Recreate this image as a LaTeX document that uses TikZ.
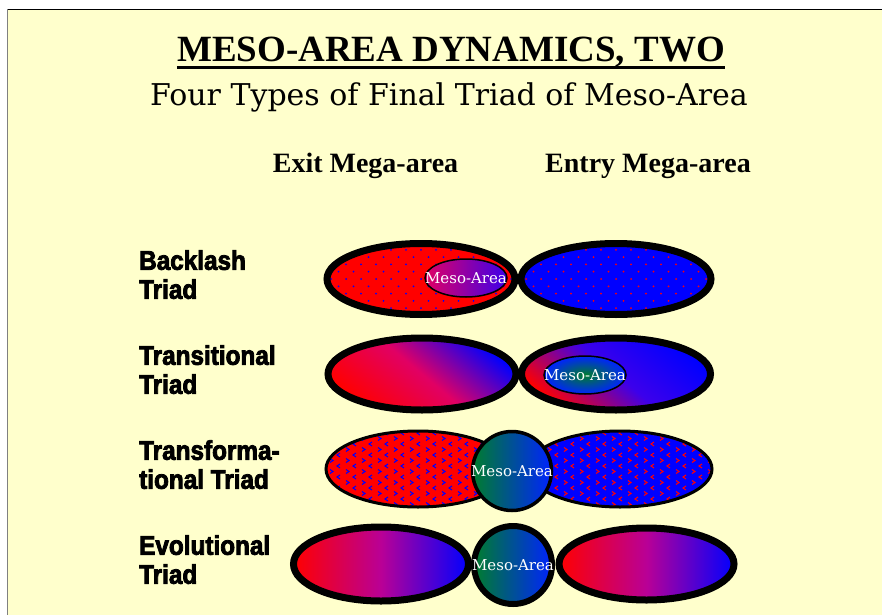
\documentclass[tikz,border=0pt]{standalone}
\usepackage{fontspec}
\setmainfont{Liberation Serif}
\newfontfamily\schoolfont{DejaVu Serif}
\newfontfamily\impactfont[FakeStretch=0.9,FakeBold=3]{Liberation Sans Bold}
\usetikzlibrary{shapes.geometric}
\definecolor{bgyellow}{RGB}{255,255,204}
\definecolor{mesomag}{RGB}{225,0,100}
\definecolor{mesoviol}{RGB}{60,0,235}
\definecolor{mesogreen}{RGB}{0,125,45}
\definecolor{mesoblue}{RGB}{0,35,255}
\definecolor{midmag}{RGB}{185,0,150}
\tikzset{
  mega/.style={ellipse, draw=black, inner sep=0pt},
  thickmega/.style={mega, line width=7pt},
  thinmega/.style={mega, line width=3pt},
  mesotext/.style={text=white, inner sep=0pt, font=\schoolfont\fontsize{15}{17}\selectfont},
  meso/.style={ellipse, draw=black, line width=1.5pt, inner sep=0pt,
    minimum width=82pt, minimum height=38pt,
    label={[mesotext]center:Meso-Area}},
  mesocirc/.style={circle, draw=black, inner sep=0pt,
    left color=mesogreen, right color=mesoblue,
    label={[mesotext]center:Meso-Area}},
  rowlabel/.style={anchor=north west, inner sep=0pt, align=left,
    font=\impactfont\fontsize{27}{29}\selectfont},
  header/.style={anchor=base, inner sep=0pt, font=\bfseries\fontsize{28}{30}\selectfont},
}
\newcommand\dotfield[1]{%
  \begin{scope}[shift={(path picture bounding box.center)}]
    \foreach \i in {-7,...,7}{\foreach \j in {-6,...,6}{%
      \fill[#1] ({\i*15+mod(abs(\j),2)*7.5},{\j*7.3}) circle (1pt);}}
  \end{scope}}
\newcommand\chevfield[1]{%
  \begin{scope}[shift={(path picture bounding box.center)}]
    \foreach \i in {-6,...,6}{\foreach \j in {-4,...,4}{%
      \draw[#1, line width=1pt]
        ({\i*16+2},{\j*11-5}) -- ({\i*16-1},{\j*11-3}) -- ({\i*16+2},{\j*11-1});
      \draw[#1, line width=1pt]
        ({\i*16+8},{\j*11+0.5}) -- ({\i*16+11},{\j*11+2.5}) -- ({\i*16+8},{\j*11+4.5});}}
  \end{scope}}
\begin{document}
\begin{tikzpicture}[x=1pt,y=-1pt]
\useasboundingbox (0,0) rectangle (882,615);
\fill[white] (0,0) rectangle (882,615);
\fill[bgyellow] (8,10) rectangle (882,615);
\draw[black, line width=1.5pt] (7.5,9.5) -- (882,9.5);
\draw[gray, line width=1.5pt] (7.5,9.5) -- (7.5,615);

% titles
\node[anchor=base, inner sep=0pt, font=\bfseries\fontsize{37}{40}\selectfont] (title) at (451,62) {MESO-AREA DYNAMICS, TWO};
\draw[line width=2.5pt] ([yshift=-5.5pt]title.base west) -- ([yshift=-5.5pt]title.base east);
\node[anchor=base, inner sep=0pt, font=\schoolfont\fontsize{30}{34}\selectfont] (subtitle) at (449,106) {Four Types of Final Triad of Meso-Area};
\node[header] (exit) at (365.5,172) {Exit Mega-area};
\node[header] (entry) at (648,172) {Entry Mega-area};

% row labels
\node[rowlabel] (lab1) at (139,250) {Backlash\\Triad};
\node[rowlabel] (lab2) at (139,345) {Transitional\\Triad};
\node[rowlabel] (lab3) at (139,440) {Transforma-\\tional Triad};
\node[rowlabel] (lab4) at (139,535) {Evolutional\\Triad};

% row 1: backlash
\node[thickmega, fill=red, minimum width=188pt, minimum height=71pt,
  path picture={\dotfield{blue}}] (b1) at (421,279) {};
\node[thickmega, fill=blue, minimum width=190pt, minimum height=71pt,
  path picture={\dotfield{red}}] (b2) at (616,279) {};
\node[meso, left color=mesomag, right color=mesoviol] (bm) at (466,278) {};

% row 2: transitional
\node[thickmega, minimum width=188pt, minimum height=72pt, shading=axis,
  top color=blue, bottom color=red, middle color=mesomag, shading angle=-40] (t1) at (422,374) {};
\node[thickmega, minimum width=189pt, minimum height=72pt, shading=axis,
  top color=blue, bottom color=red, middle color=mesoviol, shading angle=-40] (t2) at (616,374) {};
\node[meso, inner color=mesogreen, outer color=mesoblue] (tm) at (585,375) {};

% row 3: transformational
\node[thinmega, fill=red, minimum width=184pt, minimum height=76pt,
  path picture={\chevfield{blue}}] (f1) at (418,469) {};
\node[thinmega, fill=blue, minimum width=184pt, minimum height=76pt,
  path picture={\chevfield{red}}] (f2) at (620,469) {};
\node[mesocirc, line width=3.5pt, minimum size=79pt] (fm) at (512,471) {};

% row 4: evolutional
\node[thickmega, minimum width=175pt, minimum height=74pt,
  left color=red, right color=blue, middle color=midmag] (e1) at (381,564) {};
\node[thickmega, minimum width=175pt, minimum height=72pt,
  left color=red, right color=blue, middle color=midmag] (e2) at (646.5,564) {};
\node[mesocirc, line width=6pt, minimum size=78pt] (em) at (513,565) {};
\end{tikzpicture}
\end{document}
